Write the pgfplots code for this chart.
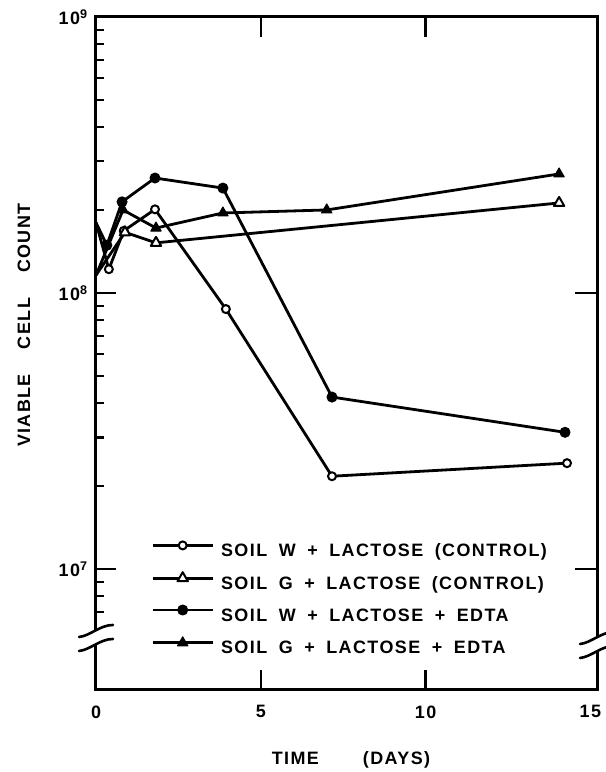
\documentclass[border=0pt]{standalone}
\usepackage{fontspec}
\setmainfont{Liberation Sans}
\newfontfamily\lett{Liberation Sans}[LetterSpace=8,WordSpace=1.8]
\usepackage{pgfplots}
\pgfplotsset{compat=1.18}
\begin{document}
\begin{tikzpicture}
\path[use as bounding box] (-96bp,-82bp) rectangle (510bp,690bp);
% right major ticks
\begin{axis}[at={(0,0)}, anchor=south west,
  scale only axis, width=501bp, height=673bp,
  xmin=0, xmax=15.2, ymode=log, ymin=3.65e6, ymax=1e9,
  axis line style={line width=3bp},
  hide x axis, axis y line*=right,
  tick align=inside, major tick length=22bp,
  tick style={black, line width=2.4bp},
  ytick={1e7,1e8}, yticklabels={}, yminorticks=false]
\addplot[draw=none] coordinates {(1,1e8)};
\end{axis}
% main axis with data and labels
\begin{axis}[
  at={(0,0)}, anchor=south west,
  scale only axis, width=501bp, height=673bp,
  clip=false,
  xmin=0, xmax=15.2, ymode=log, ymin=3.65e6, ymax=1e9,
  axis line style={line width=3bp},
  tick align=inside,
  major tick length=0pt,
  xtick={0,5,10,15}, xticklabels={0,5,10,15},
  ytick={1e7,1e8,1e9},
  yticklabels={10\textsuperscript{7},10\textsuperscript{8},10\textsuperscript{9}},
  yminorticks=false,
  xticklabel style={font=\lett\bfseries\fontsize{18}{20}\selectfont, yshift=-12bp},
  yticklabel style={font=\lett\bfseries\fontsize{18}{20}\selectfont, xshift=-5bp},
  xlabel={TIME\hspace{44bp}(DAYS)},
  ylabel={VIABLE\hspace{25bp}CELL\hspace{25bp}COUNT},
  label style={font=\lett\bfseries\fontsize{18}{20}\selectfont},
  xlabel style={at={(axis description cs:0.509,-0.104)}, anchor=center},
  ylabel style={at={(axis description cs:-0.144,0.542)}, anchor=center},
  legend style={at={(axis description cs:0.104,0.224)}, anchor=north west,
    draw=none, fill=none, font=\lett\bfseries\fontsize{18}{20}\selectfont,
    row sep=11.8bp, column sep=7bp,
    nodes={inner sep=0pt, text height=13bp, text depth=4bp}},
  legend cell align=left,
  legend image code/.code={\draw[#1, mark indices={2}] plot coordinates {(0bp,6.5bp) (30bp,6.5bp) (60bp,6.5bp)};},
]
% anchor points for the inward tick marks (drawn after the axis)
\pgfplotsinvokeforeach{1e7,1e8,1e9}{\coordinate (tM#1) at (axis cs:0,#1);}
\pgfplotsinvokeforeach{7e6,8e6,9e6,2e7,3e7,4e7,5e7,6e7,7e7,8e7,9e7,2e8,3e8,4e8,5e8,6e8,7e8,8e8,9e8}{\coordinate (tm#1) at (axis cs:0,#1);}
\pgfplotsinvokeforeach{5,10}{
  \coordinate (tb#1) at (axis cs:#1,3.65e6);
  \coordinate (tt#1) at (axis cs:#1,1e9);}
% Soil W + lactose (control)
\addplot[black, line width=2.8bp, line join=round, mark=*, mark size=4bp,
  mark indices={2,3,4,5,6,7}, mark options={fill=white, line width=2bp}]
  coordinates {(0,1.8e8) (0.39,1.22e8) (0.84,1.68e8) (1.79,2.01e8) (3.94,8.75e7) (7.16,2.17e7) (14.29,2.42e7)};
\addlegendentry{SOIL W + LACTOSE (CONTROL)}
% Soil G + lactose (control)
\addplot[black, line width=2.8bp, line join=round, mark=triangle*, mark size=6bp,
  mark indices={2,3,4}, mark options={fill=white, line width=2bp}]
  coordinates {(0,1.16e8) (0.88,1.66e8) (1.82,1.52e8) (14.05,2.12e8)};
\addlegendentry{SOIL G + LACTOSE (CONTROL)}
% Soil W + lactose + EDTA
\addplot[black, line width=2.8bp, line join=round, mark=*, mark size=5bp,
  mark indices={2,3,4,5,6,7}, mark options={fill=black, line width=1bp}]
  coordinates {(0,1.8e8) (0.33,1.49e8) (0.79,2.14e8) (1.79,2.61e8) (3.85,2.40e8) (7.16,4.2e7) (14.23,3.13e7)};
\addlegendentry{SOIL W + LACTOSE + EDTA}
% Soil G + lactose + EDTA
\addplot[black, line width=2.8bp, line join=round, mark=triangle*, mark size=6bp,
  mark indices={2,3,4,5,6}, mark options={fill=black, line width=1bp}]
  coordinates {(0,1.16e8) (0.82,2.0e8) (1.82,1.72e8) (3.85,1.95e8) (7.0,2.0e8) (14.05,2.70e8)};
\addlegendentry{SOIL G + LACTOSE + EDTA}
\coordinate (bl) at (rel axis cs:0,0.0773);
\coordinate (br) at (rel axis cs:1,0.0669);
\end{axis}
\foreach \v in {1e7,1e8,1e9}{\draw[line width=2.4bp] (tM\v) -- ++(20bp,0);}
\foreach \v in {7e6,8e6,9e6,2e7,3e7,4e7,5e7,6e7,7e7,8e7,9e7,2e8,3e8,4e8,5e8,6e8,7e8,8e8,9e8}{\draw[line width=2.2bp] (tm\v) -- ++(8bp,0);}
\foreach \v in {5,10}{
  \draw[line width=2.4bp] (tb\v) -- ++(0,20bp);
  \draw[line width=2.4bp] (tt\v) -- ++(0,-20bp);}
\foreach \c in {bl,br}{
\begin{scope}[shift={(\c)}]
  \fill[white] (-3bp,-7bp) rectangle (3bp,7bp);
  \draw[line width=2.6bp, line cap=round] (-17bp,1bp) .. controls (-6bp,2bp) and (4bp,13bp) .. (17bp,13bp);
  \draw[line width=2.6bp, line cap=round] (-17bp,-13bp) .. controls (-6bp,-12bp) and (4bp,-1bp) .. (17bp,-1bp);
\end{scope}
}
\end{tikzpicture}
\end{document}
